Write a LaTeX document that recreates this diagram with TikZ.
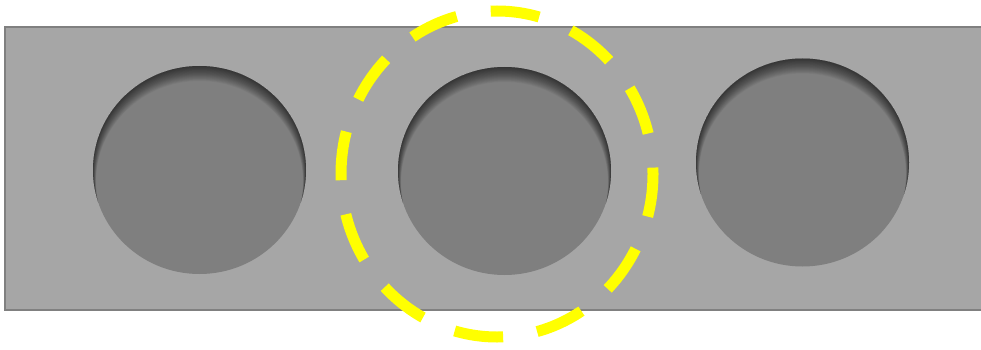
\documentclass[tikz,border=0pt]{standalone}
\definecolor{plate}{HTML}{A6A6A6}
\definecolor{platerim}{HTML}{808080}
\definecolor{holefill}{HTML}{7F7F7F}
\definecolor{markyellow}{HTML}{FFFF00}
\tikzset{
  platebox/.style={fill=plate, draw=platerim, line width=2pt},
  holeshape/.style={fill=holefill},
  highlight/.style={draw=markyellow, line width=11pt, dash pattern=on 49pt off 34.5pt, dash phase=6pt, line cap=butt}
}
\begin{document}
\begin{tikzpicture}[x=1pt,y=-1pt]
\useasboundingbox (0,0) rectangle (981,350);
\clip (0,0) rectangle (981,350);
\fill[white] (0,0) rectangle (981,350);
\draw[platebox] (5,27) rectangle (990,310);
\foreach \cx/\cy in {199.5/170, 504.5/171, 802.5/162.5}{
  \fill[holeshape] (\cx,\cy) ellipse [x radius=106.5, y radius=104];
  \begin{scope}
    \clip (\cx,\cy) ellipse [x radius=106.5, y radius=104];
    \foreach \k in {1,...,20}{
      \fill[black, opacity=0.035, even odd rule] (\cx-130,\cy-130) rectangle (\cx+130,\cy+130)
        (\cx,\cy+0.6*\k) ellipse [x radius={106.5-0.15*\k}, y radius={104-0.15*\k}];
    }
  \end{scope}
}
\draw[highlight] (497,174) ellipse [x radius=156, y radius=163];
\end{tikzpicture}
\end{document}
